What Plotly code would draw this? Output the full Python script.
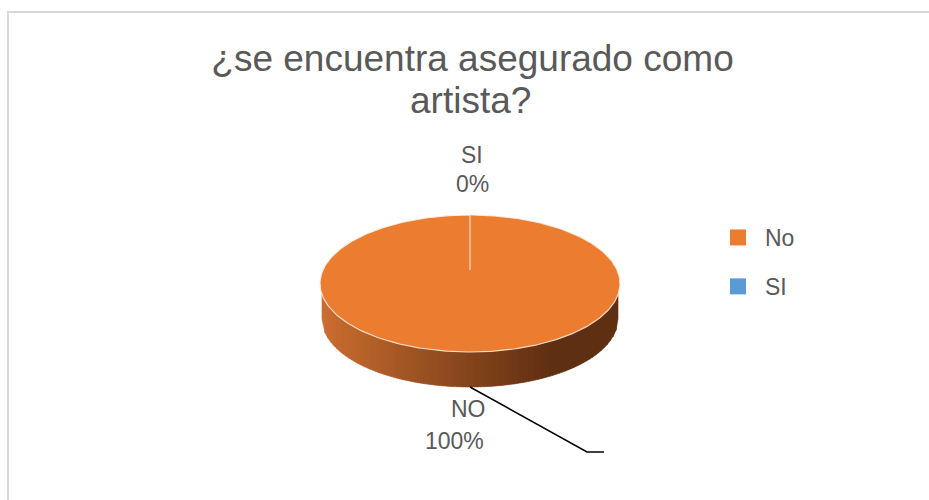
import math
import plotly.graph_objects as go

categories = ["No", "SI"]
values = [100, 0]
slice_colors = ["#EB7C30", "#5B9BD5"]
label_names = ["NO", "SI"]
title_lines = ["¿se encuentra asegurado como", "artista?"]

W, H = 929, 500
CX, CY, RX, RY = 470.0, 283.5, 150.0, 68.5
APEX_Y = 270.0
BCX, BCY, BRX, BRY = 470.0, 319.0, 148.0, 68.0
GREY = "#595959"

total = sum(values)
fig = go.Figure()


def mix(a, b, t):
    return "rgb(%d,%d,%d)" % tuple(round(a[i] + (b[i] - a[i]) * t) for i in range(3))


def wall_color(x):
    stops = [(320, (205, 110, 48)), (400, (165, 88, 36)), (470, (132, 68, 28)),
             (555, (94, 47, 18)), (620, (94, 47, 18))]
    for (x0, c0), (x1, c1) in zip(stops, stops[1:]):
        if x <= x1:
            return mix(c0, c1, (x - x0) / (x1 - x0))
    return mix(stops[-1][1], stops[-1][1], 0)


def top_y(x):
    u = max(-1.0, min(1.0, (x - CX) / RX))
    return CY + RY * math.sqrt(1 - u * u)


def low_y(x):
    u = (x - BCX) / BRX
    if abs(u) >= 1:
        return BCY
    return BCY + BRY * math.sqrt(1 - u * u)


def px(x):
    return x / W


def py(y):
    return 1 - y / H


# side wall of the disc, as vertical gradient strips
step = 3
left, right = int(BCX - BRX), int(BCX + BRX)
for x0 in range(left, right, step):
    x1 = min(x0 + step, right)
    xs = [x0, x1, x1, x0, x0]
    ys = [top_y(x0) - 2, top_y(x1) - 2, low_y(x1), low_y(x0), top_y(x0) - 2]
    c = wall_color((x0 + x1) / 2)
    fig.add_trace(go.Scatter(x=xs, y=ys, mode="lines", fill="toself", fillcolor=c,
                             line=dict(color=c, width=0.6), hoverinfo="skip", showlegend=False))

# top face: one wedge per value, clockwise from 12 o'clock
start = 0.0
for name, v, color in zip(categories, values, slice_colors):
    frac = v / total
    if frac > 0:
        n = max(2, int(360 * frac))
        angs = [2 * math.pi * (start + frac * i / n) for i in range(n + 1)]
        xs = [CX] + [CX + RX * math.sin(a) for a in angs] + [CX]
        ys = [APEX_Y] + [CY - RY * math.cos(a) for a in angs] + [APEX_Y]
        fig.add_trace(go.Scatter(x=xs, y=ys, mode="lines", fill="toself", fillcolor=color,
                                 line=dict(color="rgba(255,240,228,0.85)", width=1.2),
                                 hoverinfo="skip", showlegend=False))
    start += frac

# legend entries
for name, color in zip(categories, slice_colors):
    fig.add_trace(go.Scatter(x=[None], y=[None], mode="markers", name=name, legendgroup=name,
                             marker=dict(symbol="square", size=16, color=color)))

# leader line of the NO label
fig.add_trace(go.Scatter(x=[470, 587, 604], y=[387, 452, 452], mode="lines",
                         line=dict(color="#000000", width=1.5), hoverinfo="skip", showlegend=False))


def label(text, x, y, size=23):
    fig.add_annotation(x=x, y=y, text=text, showarrow=False, xanchor="center", yanchor="middle",
                       font=dict(family="Liberation Sans", size=size, color=GREY))


label(label_names[1], 472, 155)
label(f"{values[1] / total:.0%}", 472, 184)
label(label_names[0], 468, 409)
label(f"{values[0] / total:.0%}", 454, 441)
label(title_lines[1], 470, 100, size=37)

fig.add_shape(type="line", xref="paper", yref="paper", x0=px(8), x1=px(8), y0=0, y1=py(11),
              line=dict(color="#D9D9D9", width=2))
fig.add_shape(type="line", xref="paper", yref="paper", x0=px(7), x1=1, y0=py(12), y1=py(12),
              line=dict(color="#D9D9D9", width=2))

fig.update_layout(
    width=W, height=H,
    margin=dict(l=0, r=0, t=0, b=0),
    paper_bgcolor="white", plot_bgcolor="white",
    title=dict(text=title_lines[0], x=px(472.5), xanchor="center", y=py(58), yanchor="middle",
               font=dict(family="Liberation Sans", size=37, color=GREY)),
    xaxis=dict(range=[0, W], visible=False, fixedrange=True),
    yaxis=dict(range=[H, 0], visible=False, fixedrange=True),
    legend=dict(x=px(711), y=py(216), xanchor="left", yanchor="top", tracegroupgap=16,
                itemwidth=44, font=dict(family="Liberation Sans", size=23, color=GREY),
                bgcolor="rgba(0,0,0,0)"),
    showlegend=True,
)
fig.write_html("out.html", default_width=f"{W}px", default_height=f"{H}px",
               config={"displayModeBar": False},
               post_script="document.body.style.margin='0';")
